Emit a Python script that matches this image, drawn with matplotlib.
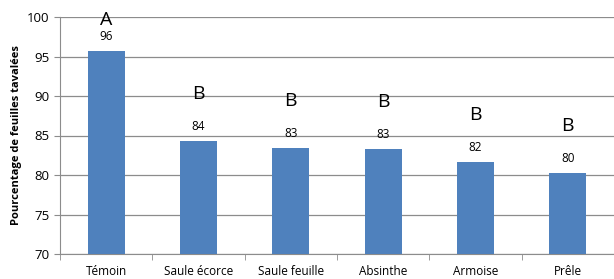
import numpy as np
import matplotlib
matplotlib.use("Agg")
import matplotlib.pyplot as plt

traitements = ["Témoin", "Saule écorce", "Saule feuille", "Absinthe", "Armoise", "Prêle"]
pourcentages = [95.7, 84.3, 83.4, 83.3, 81.6, 80.2]
etiquettes = ["96", "84", "83", "83", "82", "80"]
groupes = ["A", "B", "B", "B", "B", "B"]

plt.rcParams["font.family"] = ["Open Sans", "DejaVu Sans"]

fig = plt.figure(figsize=(6.14, 2.79), dpi=100)
ax = fig.add_axes([60 / 614, 25 / 279, 554 / 614, 237 / 279])

x = np.arange(len(traitements))
ax.bar(x, pourcentages, width=0.4, color="#4F81BD", zorder=3)

for xi, v, lab, g in zip(x, pourcentages, etiquettes, groupes):
    ax.annotate(lab, (xi, v), xytext=(0, 6), textcoords="offset points",
                ha="center", va="bottom", fontsize=8.5)
    ygrp = min(v + 6.0, 99.6)
    ax.text(xi, ygrp, g, ha="center", va="center", fontsize=14)

ax.set_ylim(70, 100)
ax.set_xlim(-0.5, len(traitements) - 0.5)
ax.set_yticks(range(70, 101, 5))
ax.yaxis.grid(True, color="#8c8c8c", linewidth=0.9, zorder=0)
ax.set_xticks(x)
ax.set_xticklabels(traitements, fontsize=8.5)
ax.set_xticks(np.arange(-0.5, len(traitements)), minor=True)
ax.tick_params(axis="x", which="major", length=0, pad=8)
ax.tick_params(axis="x", which="minor", length=4, color="#8c8c8c")
ax.tick_params(axis="y", length=4, color="#8c8c8c", labelsize=9.5)
ax.set_ylabel("Pourcentage de feuilles tavalées", fontsize=8, fontweight="bold")

for s in ["top", "right"]:
    ax.spines[s].set_visible(False)
for s in ["left", "bottom"]:
    ax.spines[s].set_color("#8c8c8c")

fig.savefig("out.png", dpi=100)
